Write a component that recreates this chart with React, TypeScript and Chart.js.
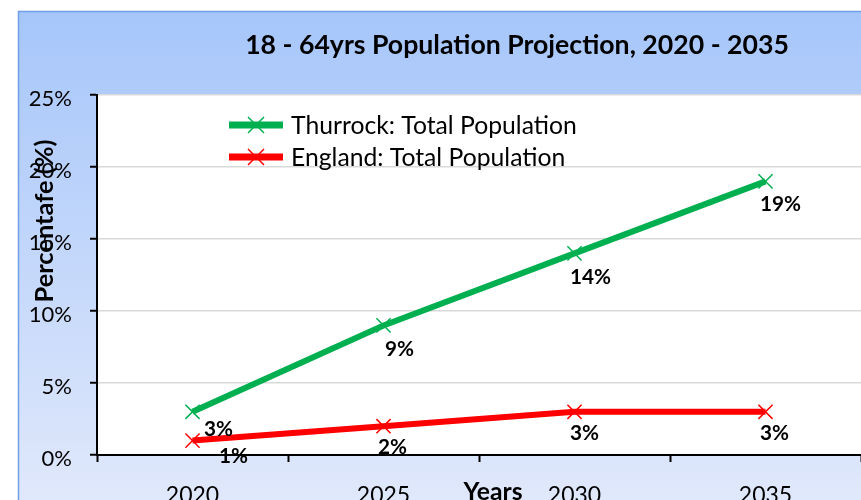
import React, { useEffect, useRef } from "react";
import { Chart, registerables } from "chart.js";

Chart.register(...registerables);

// ---- data ----
const categories = ["2020", "2025", "2030", "2035"];
const thurrock = [3, 9, 14, 19];
const england = [1, 2, 3, 3];
const seriesNames = ["Thurrock: Total Population", "England: Total Population"];
const seriesColors = ["#00b050", "#ff0000"];
const yMin = 0;
const yMax = 25;
const yStep = 5;
const titleText = "18 - 64yrs Population Projection, 2020 - 2035";
const yTitleText = "Percentafe (%)";
const xTitleText = "Years";

// ---- style ----
const FONT = "Lato, 'Open Sans', sans-serif";
const W = 900;
const H = 540;
// label offsets (px) relative to each point, per series
const labelOffsets = [
  [[26, 18], [16, 24], [16, 24], [15, 23]],
  [[41, 16], [9, 21], [10, 22], [9, 22]],
];

function fitSize(ctx: CanvasRenderingContext2D, text: string, target: number, weight: string) {
  ctx.font = `${weight} 20px ${FONT}`;
  const w = ctx.measureText(text).width;
  return (20 * target) / w;
}

const decorPlugin = {
  id: "decor",
  beforeDraw(chart: any) {
    const { ctx, chartArea } = chart;
    ctx.save();
    ctx.fillStyle = "#ffffff";
    ctx.fillRect(0, 0, W, H);
    const g = ctx.createLinearGradient(0, 11, 0, 500);
    g.addColorStop(0, "#a6c6fa");
    g.addColorStop(1, "#e0e8fb");
    ctx.fillStyle = g;
    ctx.fillRect(18, 11, W, H);
    ctx.strokeStyle = "#6f9fe6";
    ctx.lineWidth = 1.5;
    ctx.strokeRect(18.5, 11.5, W, H);
    ctx.fillStyle = "#ffffff";
    ctx.fillRect(chartArea.left, chartArea.top, chartArea.right - chartArea.left, chartArea.bottom - chartArea.top);
    ctx.restore();
  },
  afterDatasetsDraw(chart: any) {
    const { ctx } = chart;
    ctx.save();
    // data labels
    const lblSize = fitSize(ctx, "3%", 29, "bold");
    ctx.fillStyle = "#000";
    ctx.font = `bold ${lblSize}px ${FONT}`;
    ctx.textAlign = "center";
    ctx.textBaseline = "middle";
    chart.data.datasets.forEach((ds: any, i: number) => {
      const meta = chart.getDatasetMeta(i);
      meta.data.forEach((pt: any, j: number) => {
        const [dx, dy] = labelOffsets[i][j];
        ctx.fillText(`${ds.data[j]}%`, pt.x + dx, pt.y + dy);
      });
    });
    // legend
    const legSize = fitSize(ctx, chart.data.datasets[0].label, 286, "normal");
    chart.data.datasets.forEach((ds: any, i: number) => {
      const y = 125 + i * 32;
      ctx.strokeStyle = ds.borderColor;
      ctx.lineWidth = 7;
      ctx.beginPath();
      ctx.moveTo(229, y);
      ctx.lineTo(283, y);
      ctx.stroke();
      ctx.lineWidth = 1.5;
      const r = 8;
      ctx.beginPath();
      ctx.moveTo(256 - r, y - r);
      ctx.lineTo(256 + r, y + r);
      ctx.moveTo(256 - r, y + r);
      ctx.lineTo(256 + r, y - r);
      ctx.stroke();
      ctx.fillStyle = "#000";
      ctx.font = `${legSize}px ${FONT}`;
      ctx.textAlign = "left";
      ctx.textBaseline = "middle";
      ctx.fillText(ds.label, 291, y + 1);
    });
    ctx.restore();
  },
  afterDraw(chart: any) {
    const { ctx } = chart;
    ctx.save();
    ctx.fillStyle = "#000";
    ctx.textAlign = "center";
    ctx.textBaseline = "middle";
    const tSize = fitSize(ctx, titleText, 544, "bold");
    ctx.font = `bold ${tSize}px ${FONT}`;
    ctx.fillText(titleText, 517, 45);
    const xSize = fitSize(ctx, xTitleText, 59, "bold");
    ctx.font = `bold ${xSize}px ${FONT}`;
    ctx.fillText(xTitleText, 493, 492);
    const ySize = fitSize(ctx, yTitleText, 163, "bold");
    ctx.font = `bold ${ySize}px ${FONT}`;
    ctx.translate(45, 221);
    ctx.rotate(-Math.PI / 2);
    ctx.fillText(yTitleText, 0, 0);
    ctx.restore();
  },
};

export default function App() {
  const ref = useRef<HTMLCanvasElement>(null);
  useEffect(() => {
    if (!ref.current) return;
    const chart = new Chart(ref.current, {
      type: "line",
      data: {
        labels: categories,
        datasets: [thurrock, england].map((d, i) => ({
          label: seriesNames[i],
          data: d,
          borderColor: seriesColors[i],
          backgroundColor: seriesColors[i],
          borderWidth: 6,
          pointStyle: "crossRot",
          pointRadius: 10,
          pointBorderWidth: 1.5,
          pointBorderColor: seriesColors[i],
          tension: 0,
          fill: false,
        })),
      },
      options: {
        responsive: false,
        animation: false,
        layout: { padding: { left: 18, top: 95, right: W - 861, bottom: 0 } },
        plugins: {
          legend: { display: false },
          title: { display: false },
          tooltip: { enabled: false },
        },
        scales: {
          x: {
            type: "category",
            offset: true,
            afterFit(s: any) {
              s.height = H - 455;
            },
            grid: {
              offset: true,
              drawOnChartArea: false,
              tickLength: 7,
              tickColor: "#000",
              tickWidth: 2,
            },
            border: { color: "#000", width: 2 },
            ticks: {
              color: "#000",
              font: { family: FONT, size: 23 },
              padding: 20,
            },
          },
          y: {
            min: yMin,
            max: yMax,
            afterFit(s: any) {
              s.width = 97 - 18;
            },
            grid: {
              color: "#d9d9d9",
              lineWidth: 1.5,
              tickLength: 7,
              tickColor: "#000",
              tickWidth: 2,
            },
            border: { color: "#000", width: 2 },
            ticks: {
              stepSize: yStep,
              color: "#000",
              font: { family: FONT, size: 22 },
              padding: 18,
              labelOffset: 4,
              callback: (v: any) => `${v}%`,
            },
          },
        },
      },
      plugins: [decorPlugin],
    });
    return () => chart.destroy();
  }, []);
  return (
    <div style={{ position: "absolute", left: 0, top: 0, width: 861, height: 500, overflow: "hidden" }}>
      <canvas ref={ref} width={W} height={H} style={{ width: W, height: H, display: "block" }} />
    </div>
  );
}
